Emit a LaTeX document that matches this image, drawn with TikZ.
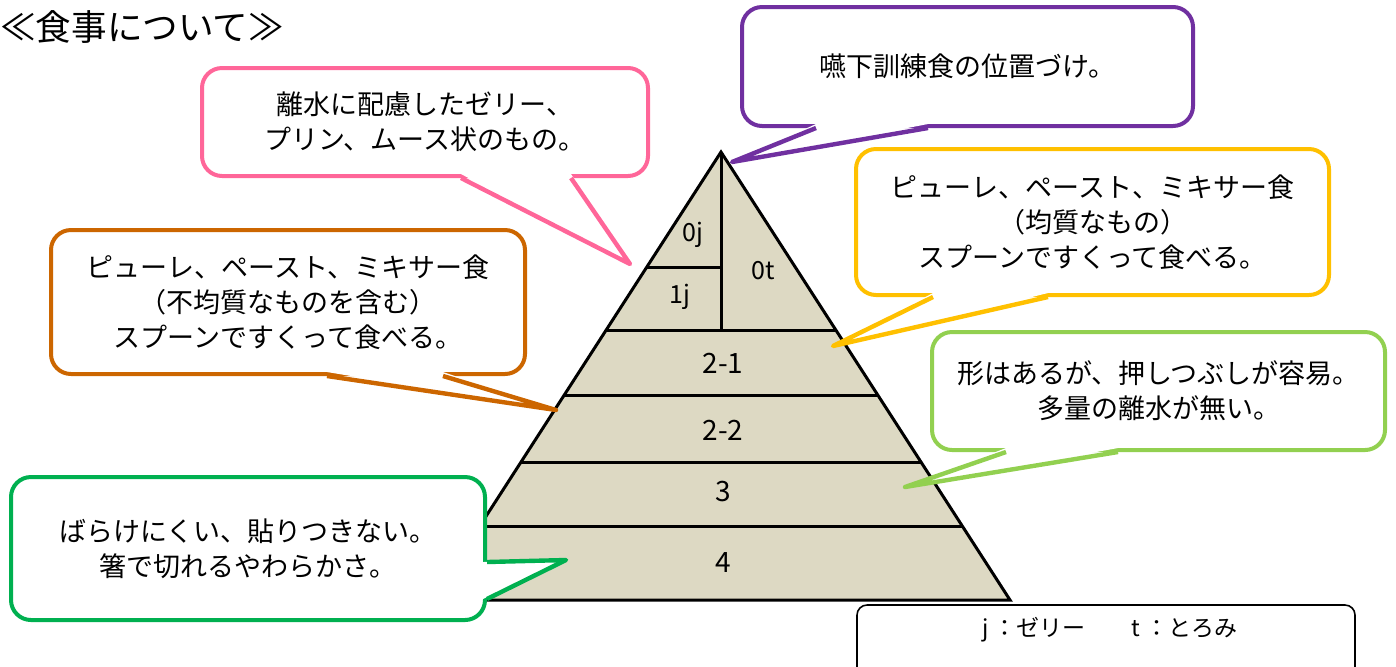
\documentclass[tikz,border=0pt]{standalone}
\usepackage{fontspec}
\setmainfont{Noto Sans CJK JP}
\usepackage{tikz}
\usetikzlibrary{calc,positioning}
\definecolor{kpurple}{HTML}{7030A0}
\definecolor{kpink}{HTML}{FF6699}
\definecolor{korange}{HTML}{CC6600}
\definecolor{kyellow}{HTML}{FFC000}
\definecolor{klgreen}{HTML}{92D050}
\definecolor{kgreen}{HTML}{00B050}
\definecolor{ktan}{HTML}{DDD9C3}
\tikzstyle{bubble} =
[
	draw,rectangle,rounded corners=10pt,line width=2pt,fill=white,
	inner sep=0pt,align=center,font=\fontsize{13.5}{17.5}\selectfont
]
\tikzstyle{pointer} = [line width=2.2pt,line join=round]
\tikzstyle{pyrline} = [line width=1.5pt]
\tikzstyle{small} = [font=\fontsize{12.5}{14}\selectfont]
\tikzstyle{big} = [font=\fontsize{14}{16}\selectfont]

\begin{document}
\begin{tikzpicture}[x=0.5pt,y=-0.5pt]
\useasboundingbox (0,0) rectangle (1396,666);

\node[anchor=west,inner sep=0pt,font=\fontsize{17.8}{20}\selectfont] (title) at (0,27) {≪食事について≫};

% pyramid
\coordinate (apex) at (721,152);
\coordinate (bl) at (432,600);
\coordinate (br) at (1010,600);
\coordinate (l1) at ($(apex)!0.2567!(bl)$);
\coordinate (l2) at ($(apex)!0.3973!(bl)$);
\fill[ktan] (apex) -- (bl) -- (br) -- cycle;
\draw[pyrline] (l1) -- (l1 -| apex);
\draw[pyrline] (apex) -- (l2 -| apex);
\foreach \t in {0.3973,0.5446,0.692,0.837}
	\draw[pyrline] ($(apex)!\t!(bl)$) -- ($(apex)!\t!(br)$);
\draw[pyrline] (apex) -- (bl) -- (br) -- cycle;

\node[small] (L0j) at (693,235) {0j};
\node[small] (L1j) at (680,297) {1j};
\node[small] (L0t) at (763,271) {0t};
\node[big] (L21) at (723,363) {2-1};
\node[big] (L22) at (723,430) {2-2};
\node[big] (L3) at (723,492) {3};
\node[big] (L4) at (723,563) {4};

% callouts
\node[bubble,draw=kpurple,minimum width=225.5pt,minimum height=59.5pt] (kunren) at (967.5,66.5) {嚥下訓練食の位置づけ。};
\coordinate (kunrentip) at (732,162);
\fill[white] ([xshift=38pt,yshift=2pt]kunren.south west) -- (kunrentip) -- ([xshift=94pt,yshift=2pt]kunren.south west) -- cycle;
\draw[pointer,kpurple] ([xshift=38pt]kunren.south west) -- (kunrentip) -- ([xshift=94pt]kunren.south west);

\node[bubble,draw=kpink,minimum width=223pt,minimum height=54pt] (jelly) at (425,122) {離水に配慮したゼリー、\\プリン、ムース状のもの。};
\coordinate (jellytip) at (630,264);
\fill[white] ([xshift=130.5pt,yshift=2pt]jelly.south west) -- (jellytip) -- ([xshift=185.5pt,yshift=2pt]jelly.south west) -- cycle;
\draw[pointer,kpink] ([xshift=130.5pt]jelly.south west) -- (jellytip) -- ([xshift=185.5pt]jelly.south west);

\node[bubble,draw=korange,minimum width=237pt,minimum height=72pt] (uneven) at (288,302) {ピューレ、ペースト、ミキサー食\\（不均質なものを含む）\\スプーンですくって食べる。};
\coordinate (uneventip) at (556,410);
\fill[white] ([xshift=139pt,yshift=2pt]uneven.south west) -- (uneventip) -- ([xshift=197pt,yshift=2pt]uneven.south west) -- cycle;
\draw[pointer,korange] ([xshift=139pt]uneven.south west) -- (uneventip) -- ([xshift=197pt]uneven.south west);

\node[bubble,draw=kyellow,minimum width=236.5pt,minimum height=73pt] (even) at (1092.5,222) {ピューレ、ペースト、ミキサー食\\（均質なもの）\\スプーンですくって食べる。};
\coordinate (eventip) at (833,346);
\fill[white] ([xshift=39.5pt,yshift=2pt]even.south west) -- (eventip) -- ([xshift=97pt,yshift=2pt]even.south west) -- cycle;
\draw[pointer,kyellow] ([xshift=39.5pt]even.south west) -- (eventip) -- ([xshift=97pt]even.south west);

\node[bubble,draw=klgreen,minimum width=226.5pt,minimum height=59pt] (press) at (1158.5,391) {形はあるが、押しつぶしが容易。\\多量の離水が無い。};
\coordinate (presstip) at (905,487);
\fill[white] ([xshift=38pt,yshift=2pt]press.south west) -- (presstip) -- ([xshift=94pt,yshift=2pt]press.south west) -- cycle;
\draw[pointer,klgreen] ([xshift=38pt]press.south west) -- (presstip) -- ([xshift=94pt]press.south west);

\node[bubble,draw=kgreen,minimum width=237pt,minimum height=71.5pt] (chop) at (248,548.5) {ばらけにくい、貼りつきない。\\箸で切れるやわらかさ。};
\coordinate (choptip) at (566,560);
\fill[white] ([xshift=-2pt,yshift=30pt]chop.south east) -- (choptip) -- ([xshift=-2pt,yshift=11.5pt]chop.south east) -- cycle;
\draw[pointer,kgreen] ([yshift=30pt]chop.south east) -- (choptip) -- ([yshift=11.5pt]chop.south east);

% legend
\node[draw,rectangle,rounded corners=5pt,line width=0.8pt,fill=white,minimum width=249pt,minimum height=40pt] (legend) at (1106,645) {};
\node[font=\fontsize{11.5}{13}\selectfont] (legendtext) at (1110,630) {j ：ゼリー　　t ：とろみ};

\end{tikzpicture}
\end{document}
